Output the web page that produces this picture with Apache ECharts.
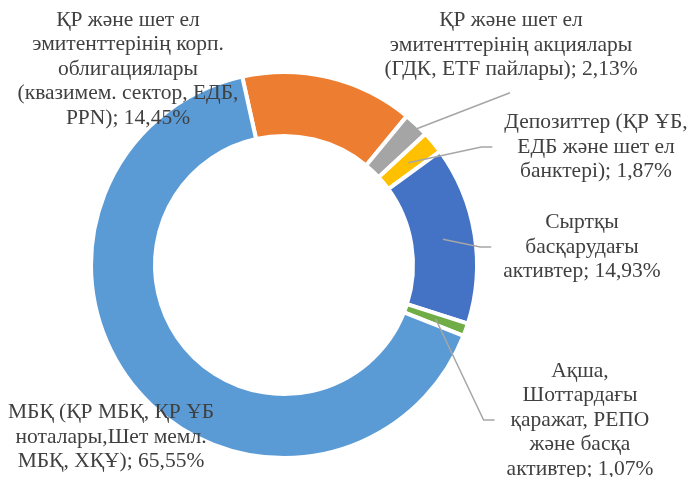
<!DOCTYPE html>
<html lang="kk">
<head>
    <meta charset="UTF-8">
    <title>Активтер құрылымы</title>
    <style>
        html, body { margin: 0; padding: 0; background: #fff; }
        #main { width: 687px; height: 477px; }
    </style>
</head>
<body>
<div id="main"></div>

<script src="https://cdn.jsdelivr.net/npm/echarts@6/dist/echarts.min.js"></script>
<script>
    // categories, clockwise from the top-left
    var names = [
        'ҚР және шет ел\nэмитенттерінің корп.\nоблигациялары\n(квазимем. сектор, ЕДБ,\nPPN)',
        'ҚР және шет ел\nэмитенттерінің акциялары\n(ГДК, ETF пайлары)',
        'Депозиттер (ҚР ҰБ,\nЕДБ және шет ел\nбанктері)',
        'Сыртқы\nбасқарудағы\nактивтер',
        'Ақша,\nШоттардағы\nқаражат, РЕПО\nжәне басқа\nактивтер',
        'МБҚ (ҚР МБҚ, ҚР ҰБ\nноталары,Шет мемл.\nМБҚ, ХҚҰ)'
    ];
    var values = [14.45, 2.13, 1.87, 14.93, 1.07, 65.55];
    var colors = ['#ED7D31', '#A5A5A5', '#FFC000', '#4472C4', '#70AD47', '#5B9BD5'];

    // label placement (centre of each text block) and guide style
    var labelPos = [[128, 69], [511, 45], [596, 147], [582, 247], [580, 420], [111, 437]];
    var guideType = ['none', 'below', 'side', 'side', 'side', 'none'];
    var guideR = [0, 184, 161, 161, 161, 0];

    var cx = 284, cy = 265;
    var ring = [129, 193];

    var chartDom = document.getElementById('main');
    var myChart = echarts.init(chartDom);
    var option;

    // ring itself
    var ringData = names.map(function (n, i) {
        return {name: n, value: values[i], itemStyle: {color: colors[i]}};
    });

    // same slices, invisible, only to carry labels and guide lines above the ring
    var labelData = names.map(function (n, i) {
        return {
            name: n,
            value: values[i],
            labelLine: {show: guideType[i] !== 'none'}
        };
    });

    option = {
        animation: false,
        series: [
            {
                type: 'pie',
                z: 2,
                center: [cx, cy],
                radius: ring,
                startAngle: 102.5,
                clockwise: true,
                silent: true,
                itemStyle: {borderColor: '#fff', borderWidth: 4},
                label: {show: false},
                labelLine: {show: false},
                data: ringData
            },
            {
                type: 'pie',
                z: 5,
                center: [cx, cy],
                radius: ring,
                startAngle: 102.5,
                clockwise: true,
                silent: true,
                avoidLabelOverlap: false,
                itemStyle: {color: 'rgba(0,0,0,0)', borderWidth: 0},
                label: {
                    show: true,
                    position: 'outside',
                    color: '#404040',
                    fontFamily: '"Liberation Serif", "Times New Roman", serif',
                    fontSize: 21.5,
                    lineHeight: 24.5,
                    align: 'center',
                    formatter: function (p) {
                        return p.name + '; ' + p.value.toFixed(2).replace('.', ',') + '%';
                    }
                },
                labelLine: {
                    show: true,
                    lineStyle: {color: '#A6A6A6', width: 1.5}
                },
                labelLayout: function (params) {
                    var i = params.dataIndex;
                    var p = labelPos[i];
                    var res = {x: p[0], y: p[1], align: 'center', verticalAlign: 'middle'};
                    var pts = params.labelLinePoints;
                    if (guideType[i] !== 'none' && pts) {
                        var dx = pts[0][0] - cx, dy = pts[0][1] - cy;
                        var d = Math.sqrt(dx * dx + dy * dy);
                        var s = [cx + dx / d * guideR[i], cy + dy / d * guideR[i]];
                        var w = params.labelRect.width, h = params.labelRect.height;
                        if (guideType[i] === 'below') {
                            var e = [p[0] - 1, p[1] + h / 2 + 11];
                            res.labelLinePoints = [s, [(s[0] + e[0]) / 2, (s[1] + e[1]) / 2], e];
                        } else {
                            var end = [p[0] - w / 2 - 12, p[1]];
                            res.labelLinePoints = [s, [end[0] - 11, p[1]], end];
                        }
                    }
                    return res;
                },
                data: labelData
            }
        ]
    };

    option && myChart.setOption(option);
</script>
</body>
</html>
